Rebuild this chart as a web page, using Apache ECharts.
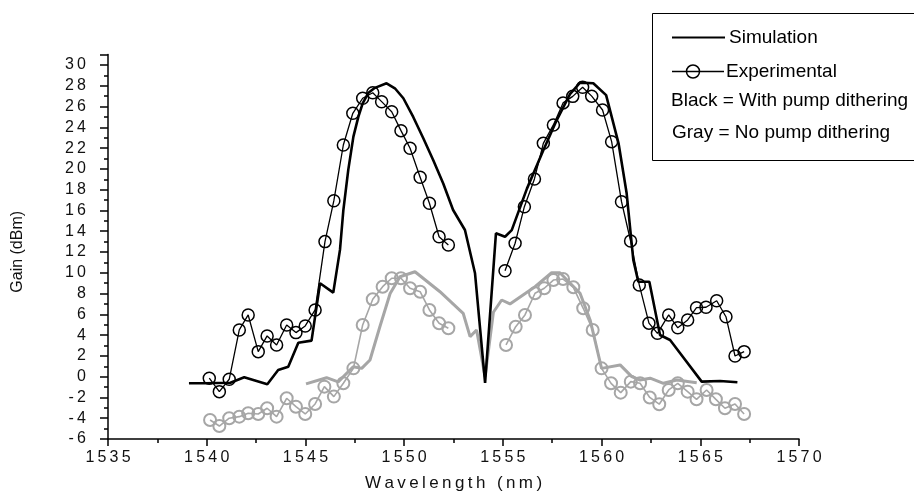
<!DOCTYPE html>
<html><head><meta charset="utf-8">
<script src="https://cdn.jsdelivr.net/npm/echarts@6/dist/echarts.min.js"></script>
<style>html,body{margin:0;padding:0;background:#fff}#c{width:914px;height:497px}</style>
</head><body><div id="c"></div>
<script>
// ---- Data ----
const xTicks = [1535, 1540, 1545, 1550, 1555, 1560, 1565, 1570];
const yTicks = [-6, -4, -2, 0, 2, 4, 6, 8, 10, 12, 14, 16, 18, 20, 22, 24, 26, 28, 30];

// Black simulation (with pump dithering)
const simBlackX = [1539.1, 1539.9, 1541.2, 1541.9, 1543.07, 1543.62, 1544.13, 1544.64, 1545.31, 1545.74, 1546.41, 1546.75, 1546.92, 1547.17, 1547.43, 1547.68, 1547.9, 1548.18, 1548.52, 1549.11, 1549.53, 1549.96, 1550.46, 1550.97, 1551.47, 1551.98, 1552.48, 1553.08, 1553.59, 1554.1, 1554.65, 1555.11, 1555.45, 1556.22, 1557.05, 1557.73, 1558.4, 1558.91, 1559.58, 1560.23, 1560.86, 1561.27, 1561.61, 1561.86, 1562.42, 1562.96, 1563.47, 1563.98, 1565.07, 1566.0, 1566.88];
const simBlackY = [-0.64, -0.64, -0.58, -0.06, -0.73, 0.64, 0.96, 3.27, 3.47, 8.99, 8.09, 12.2, 16.0, 19.9, 23.1, 25.0, 26.3, 27.3, 27.8, 28.24, 27.76, 26.8, 25.0, 22.95, 20.86, 18.6, 16.04, 14.12, 9.95, -0.6, 13.8, 13.47, 14.1, 18.1, 21.8, 24.7, 27.2, 28.3, 28.24, 27.1, 22.46, 17.65, 11.2, 9.14, 9.14, 4.01, 3.53, 2.25, -0.48, -0.41, -0.54];

// Black experimental (with pump dithering)
const expBlackLeftX = [1540.13, 1540.64, 1541.14, 1541.65, 1542.1, 1542.61, 1543.06, 1543.54, 1544.05, 1544.52, 1544.99, 1545.49, 1545.99, 1546.44, 1546.92, 1547.4, 1547.9, 1548.41, 1548.86, 1549.37, 1549.84, 1550.3, 1550.81, 1551.28, 1551.77, 1552.24];
const expBlackLeftY = [-0.15, -1.44, -0.25, 4.5, 5.94, 2.41, 3.92, 3.05, 4.98, 4.24, 4.88, 6.42, 13.0, 16.94, 22.3, 25.35, 26.8, 27.33, 26.47, 25.5, 23.68, 21.98, 19.19, 16.69, 13.47, 12.68];
const expBlackRightX = [1555.11, 1555.62, 1556.09, 1556.6, 1557.05, 1557.56, 1558.05, 1558.54, 1559.04, 1559.5, 1560.05, 1560.51, 1561.01, 1561.47, 1561.91, 1562.4, 1562.83, 1563.4, 1563.86, 1564.36, 1564.81, 1565.29, 1565.83, 1566.3, 1566.76, 1567.22];
const expBlackRightY = [10.2, 12.84, 16.36, 19.03, 22.46, 24.23, 26.35, 26.98, 27.85, 27.0, 25.67, 22.62, 16.84, 13.06, 8.83, 5.15, 4.17, 5.94, 4.7, 5.46, 6.64, 6.68, 7.31, 5.77, 1.99, 2.41];

// Gray simulation (no pump dithering)
const simGrayX = [1545.03, 1546.07, 1546.66, 1547.42, 1547.85, 1548.27, 1548.77, 1549.29, 1549.79, 1550.55, 1551.8, 1552.99, 1553.34, 1553.67, 1554.1, 1554.52, 1554.94, 1555.36, 1556.63, 1557.47, 1557.89, 1558.91, 1559.42, 1560.0, 1560.94, 1561.53, 1561.95, 1562.46, 1563.13, 1563.81, 1564.82];
const simGrayY = [-0.7, -0.1, -0.5, 0.96, 0.8, 1.6, 4.8, 8.0, 9.62, 10.1, 8.2, 6.1, 3.85, 4.49, 0.0, 6.2, 7.38, 7.0, 8.66, 10.0, 10.0, 8.03, 5.46, 0.8, 1.13, 0.0, -0.32, -0.15, -0.64, -0.32, -0.58];

// Gray experimental (no pump dithering)
const expGrayLeftX = [1540.17, 1540.64, 1541.14, 1541.65, 1542.1, 1542.61, 1543.06, 1543.54, 1544.05, 1544.52, 1544.99, 1545.49, 1545.96, 1546.44, 1546.92, 1547.43, 1547.9, 1548.41, 1548.91, 1549.37, 1549.84, 1550.3, 1550.81, 1551.28, 1551.77, 1552.24];
const expGrayLeftY = [-4.17, -4.75, -4.0, -3.85, -3.52, -3.59, -3.04, -3.85, -2.08, -2.89, -3.59, -2.63, -0.96, -1.92, -0.64, 0.8, 4.98, 7.45, 8.66, 9.47, 9.47, 8.51, 8.18, 6.42, 5.14, 4.66];
const expGrayRightX = [1555.16, 1555.65, 1556.12, 1556.63, 1557.1, 1557.56, 1558.05, 1558.57, 1559.07, 1559.55, 1560.0, 1560.48, 1560.97, 1561.48, 1561.95, 1562.44, 1562.92, 1563.4, 1563.86, 1564.36, 1564.81, 1565.32, 1565.79, 1566.25, 1566.76, 1567.22];
const expGrayRightY = [3.05, 4.81, 5.94, 8.03, 8.51, 9.3, 9.4, 8.6, 6.58, 4.49, 0.8, -0.64, -1.54, -0.48, -0.64, -2.0, -2.65, -1.28, -0.64, -1.44, -2.18, -1.28, -2.18, -3.04, -2.63, -3.59];

const legendLabels = ['Simulation', 'Experimental', 'Black = With pump dithering', 'Gray = No pump dithering'];
const xTitle = 'Wavelength (nm)';
const yTitle = 'Gain (dBm)';

// ---- Helpers ----
const zip = (xs, ys) => xs.map((x, i) => [x, ys[i]]);
const TS = '\u2009';
const spaced = s => String(s).split('').join(TS);
const FONT = 'Liberation Sans, Arial, sans-serif';
const BLACK = '#000';
const GRAY = '#a6a6a6';

const chart = echarts.init(document.getElementById('c'), null, {renderer: 'canvas'});

function simSeries(xs, ys, color, w, z) {
  return {type: 'line', data: zip(xs, ys), symbol: 'none', z: z,
    lineStyle: {color: color, width: w}, itemStyle: {color: color}, animation: false};
}
function expSeries(xs, ys, color, lw, bw, z) {
  return {type: 'line', data: zip(xs, ys), symbol: 'circle', symbolSize: 12, z: z,
    lineStyle: {color: color, width: lw},
    itemStyle: {color: 'rgba(0,0,0,0)', borderColor: color, borderWidth: bw}, animation: false};
}

const option = {
  backgroundColor: '#fff',
  animation: false,
  grid: {left: 108, right: 115, top: 54.6, bottom: 58, containLabel: false},
  xAxis: {
    type: 'value', min: xTicks[0], max: xTicks[xTicks.length - 1], interval: 5,
    axisLine: {show: true, onZero: false, lineStyle: {color: BLACK, width: 1.5}},
    axisTick: {show: true, length: 7, lineStyle: {color: BLACK, width: 1.5}},
    minorTick: {show: true, splitNumber: 2, length: 4, lineStyle: {color: BLACK, width: 1.5}},
    splitLine: {show: false},
    axisLabel: {color: '#111', fontSize: 16, fontFamily: FONT, margin: 11, formatter: v => spaced(v)},
    name: spaced(xTitle), nameLocation: 'middle', nameGap: 36,
    nameTextStyle: {color: '#111', fontSize: 17, fontFamily: FONT}
  },
  yAxis: {
    type: 'value', min: yTicks[0], max: 31, interval: 2,
    axisLine: {show: true, onZero: false, lineStyle: {color: BLACK, width: 1.5}},
    axisTick: {show: true, length: 8, lineStyle: {color: BLACK, width: 1.5}},
    minorTick: {show: true, splitNumber: 2, length: 4, lineStyle: {color: BLACK, width: 1.5}},
    splitLine: {show: false},
    axisLabel: {color: '#111', fontSize: 16, fontFamily: FONT, margin: 22,
      formatter: v => (yTicks.indexOf(v) < 0 ? '' : spaced(v))},
    name: yTitle, nameLocation: 'middle', nameRotate: 90, nameGap: 82,
    nameTextStyle: {color: '#111', fontSize: 16, fontFamily: FONT, padding: [0, 10, 0, 0]}
  },
  series: [
    simSeries(simGrayX, simGrayY, GRAY, 3, 2),
    expSeries(expGrayLeftX, expGrayLeftY, GRAY, 1.6, 2, 3),
    expSeries(expGrayRightX, expGrayRightY, GRAY, 1.6, 2, 3),
    simSeries(simBlackX, simBlackY, BLACK, 2.6, 4),
    expSeries(expBlackLeftX, expBlackLeftY, BLACK, 1.3, 1.5, 5),
    expSeries(expBlackRightX, expBlackRightY, BLACK, 1.3, 1.5, 5)
  ],
  graphic: [
    {type: 'rect', shape: {x: 652.5, y: 13.5, width: 262, height: 147}, style: {fill: '#fff', stroke: '#000', lineWidth: 1}, z: 10},
    {type: 'line', shape: {x1: 672, y1: 37.5, x2: 725, y2: 37.5}, style: {stroke: '#000', lineWidth: 2}, z: 11},
    {type: 'text', x: 729, y: 38, style: {text: legendLabels[0], fill: '#000', font: '19px ' + FONT, verticalAlign: 'middle'}, z: 11},
    {type: 'line', shape: {x1: 672, y1: 71.5, x2: 724, y2: 71.5}, style: {stroke: '#000', lineWidth: 1.5}, z: 11},
    {type: 'circle', shape: {cx: 693, cy: 71.5, r: 6.5}, style: {fill: 'none', stroke: '#000', lineWidth: 1.5}, z: 11},
    {type: 'text', x: 726, y: 72, style: {text: legendLabels[1], fill: '#000', font: '19px ' + FONT, verticalAlign: 'middle'}, z: 11},
    {type: 'text', x: 671, y: 101, style: {text: legendLabels[2], fill: '#000', font: '19px ' + FONT, verticalAlign: 'middle'}, z: 11},
    {type: 'text', x: 672, y: 133, style: {text: legendLabels[3], fill: '#000', font: '19px ' + FONT, verticalAlign: 'middle'}, z: 11}
  ]
};
chart.setOption(option);
</script>
</body></html>
